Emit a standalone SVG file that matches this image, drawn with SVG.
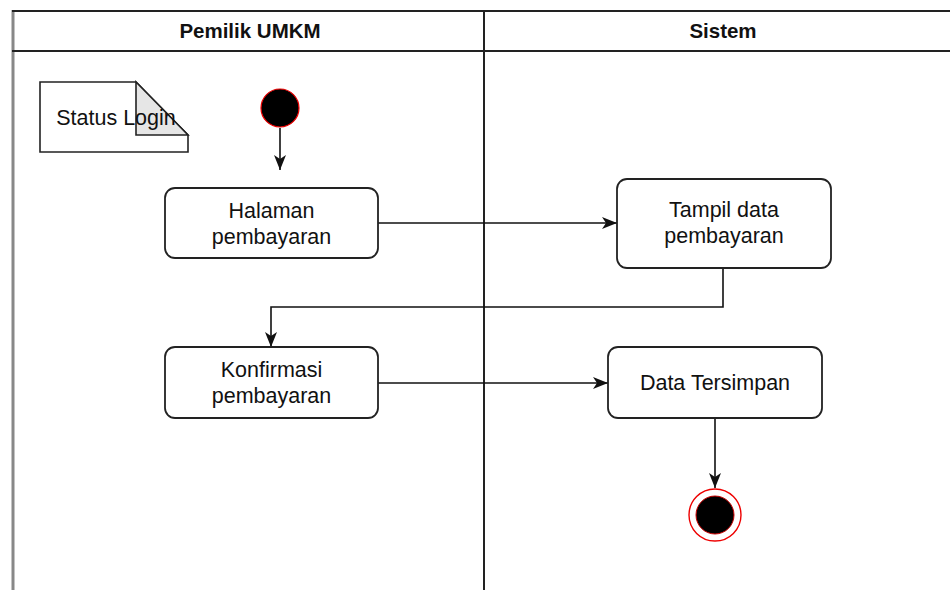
<svg xmlns="http://www.w3.org/2000/svg" width="950" height="590" viewBox="0 0 950 590">
<style>
.lane{stroke:#222;stroke-width:2;fill:none}
.box{fill:#fff;stroke:#222;stroke-width:1.8}
.t{font-family:"Liberation Sans",Arial,sans-serif;font-size:21.5px;fill:#111;text-anchor:middle}
.h{font-family:"Liberation Sans",Arial,sans-serif;font-size:20.5px;font-weight:bold;fill:#111;text-anchor:middle}
.c{fill:none;stroke:#111;stroke-width:1.6}
</style>
<defs>
<marker id="arr" markerUnits="userSpaceOnUse" markerWidth="16" markerHeight="14" refX="15" refY="7" orient="auto">
<path d="M0,1 L15,7 L0,13 L4,7 Z" fill="#111"/>
</marker>
</defs>
<rect width="950" height="590" fill="#fff"/>
<g id="pool">
<line x1="13" y1="10" x2="13" y2="590" stroke="#888" stroke-width="3"/>
<line x1="12" y1="11" x2="950" y2="11" class="lane"/>
<line x1="12" y1="51" x2="950" y2="51" class="lane"/>
<line x1="484" y1="11" x2="484" y2="590" class="lane"/>
<text class="h" x="250" y="38">Pemilik UMKM</text>
<text class="h" x="723" y="38">Sistem</text>
</g>
<g id="connectors">
<path class="c" d="M280,128 L280,170" marker-end="url(#arr)"/>
<path class="c" d="M378,223 L617,223" marker-end="url(#arr)"/>
<path class="c" d="M723,268 L723,307 L271,307 L271,347" marker-end="url(#arr)"/>
<path class="c" d="M378,383 L608,383" marker-end="url(#arr)"/>
<path class="c" d="M715,418 L715,488" marker-end="url(#arr)"/>
</g>
<g id="note">
<path d="M40,82 L136,82 L188,135 L188,152 L40,152 Z" fill="#fff" stroke="#222" stroke-width="1.6"/>
<path d="M136,82 L136,135 L188,135 Z" fill="#e6e6e6" stroke="#222" stroke-width="1.6"/>
<text class="t" x="116" y="125">Status Login</text>
</g>
<g id="start">
<circle cx="280" cy="108" r="19" fill="#000" stroke="#e00" stroke-width="1.2"/>
</g>
<g id="halaman">
<rect class="box" x="165" y="188" width="213" height="70" rx="10"/>
<text class="t" x="271.5" y="218">Halaman</text>
<text class="t" x="271.5" y="244">pembayaran</text>
</g>
<g id="tampil">
<rect class="box" x="617" y="179" width="214" height="89" rx="10"/>
<text class="t" x="724" y="217">Tampil data</text>
<text class="t" x="724" y="243">pembayaran</text>
</g>
<g id="konfirmasi">
<rect class="box" x="165" y="347" width="213" height="71" rx="10"/>
<text class="t" x="271.5" y="377">Konfirmasi</text>
<text class="t" x="271.5" y="403">pembayaran</text>
</g>
<g id="tersimpan">
<rect class="box" x="608" y="347" width="214" height="71" rx="10"/>
<text class="t" x="715" y="390">Data Tersimpan</text>
</g>
<g id="end">
<circle cx="715" cy="515" r="26" fill="#fff" stroke="#e00" stroke-width="1.4"/>
<circle cx="715" cy="515" r="19" fill="#000" stroke="#c00" stroke-width="1"/>
</g>
</svg>
